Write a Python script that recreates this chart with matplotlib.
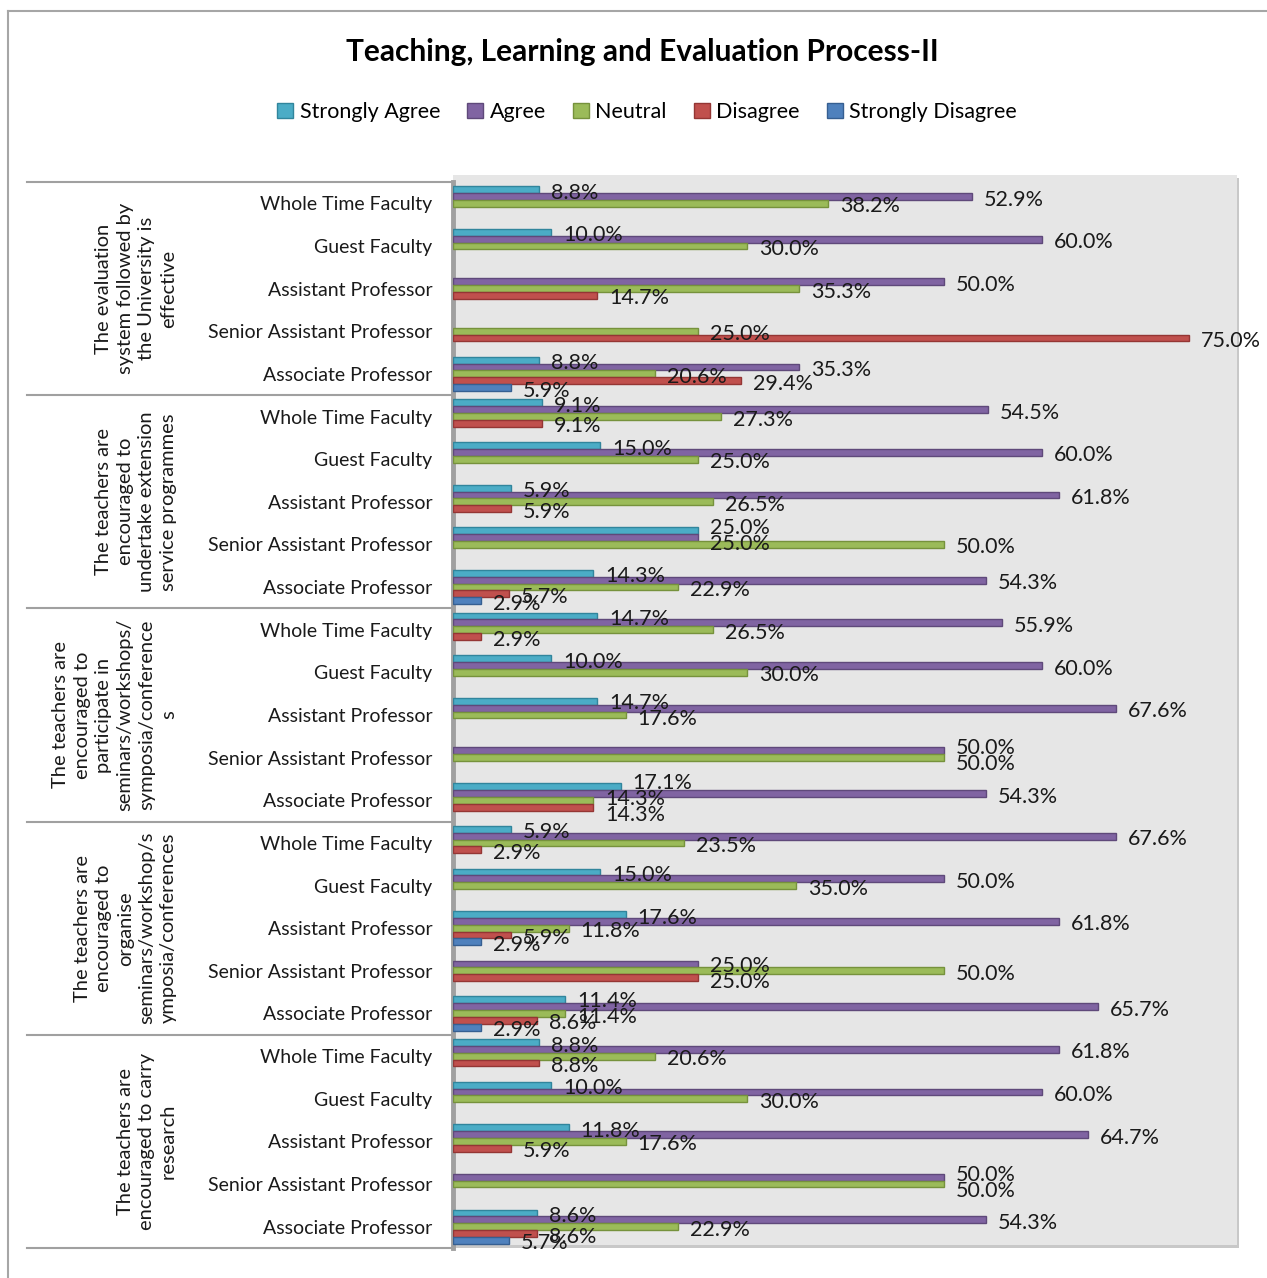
import numpy as np
import matplotlib
matplotlib.use("Agg")
import matplotlib.pyplot as plt
import matplotlib.transforms as mtransforms
from matplotlib.patches import Rectangle, Patch
from matplotlib.lines import Line2D

plt.rcParams['font.family'] = ['Lato', 'DejaVu Sans']

title = "Teaching, Learning and Evaluation Process-II"
series_names = ["Strongly Agree", "Agree", "Neutral", "Disagree", "Strongly Disagree"]
categories = ["Whole Time Faculty", "Guest Faculty", "Assistant Professor",
              "Senior Assistant Professor", "Associate Professor"]
groups = [
    "The evaluation\nsystem followed by\nthe University is\neffective",
    "The teachers are\nencouraged to\nundertake extension\nservice programmes",
    "The teachers are\nencouraged to\nparticipate in\nseminars/workshops/\nsymposia/conference\ns",
    "The teachers are\nencouraged to\norganise\nseminars/workshop/s\nymposia/conferences",
    "The teachers are\nencouraged to carry\nresearch",
]

strongly_agree = [8.8, 10.0, 0, 0, 8.8,
                  9.1, 15.0, 5.9, 25.0, 14.3,
                  14.7, 10.0, 14.7, 0, 17.1,
                  5.9, 15.0, 17.6, 0, 11.4,
                  8.8, 10.0, 11.8, 0, 8.6]
agree = [52.9, 60.0, 50.0, 0, 35.3,
         54.5, 60.0, 61.8, 25.0, 54.3,
         55.9, 60.0, 67.6, 50.0, 54.3,
         67.6, 50.0, 61.8, 25.0, 65.7,
         61.8, 60.0, 64.7, 50.0, 54.3]
neutral = [38.2, 30.0, 35.3, 25.0, 20.6,
           27.3, 25.0, 26.5, 50.0, 22.9,
           26.5, 30.0, 17.6, 50.0, 14.3,
           23.5, 35.0, 11.8, 50.0, 11.4,
           20.6, 30.0, 17.6, 50.0, 22.9]
disagree = [0, 0, 14.7, 75.0, 29.4,
            9.1, 0, 5.9, 0, 5.7,
            2.9, 0, 0, 0, 14.3,
            2.9, 0, 5.9, 25.0, 8.6,
            8.8, 0, 5.9, 0, 8.6]
strongly_disagree = [0, 0, 0, 0, 5.9,
                     0, 0, 0, 0, 2.9,
                     0, 0, 0, 0, 0,
                     0, 0, 2.9, 0, 2.9,
                     0, 0, 0, 0, 5.7]

series = [strongly_agree, agree, neutral, disagree, strongly_disagree]
colors = ['#4BACC6', '#8064A2', '#9BBB59', '#C0504D', '#4F81BD']
edges = ['#31859C', '#5F497A', '#76923C', '#943634', '#365F91']

W, H = 1267, 1278
DPI = 100
fig = plt.figure(figsize=(W / DPI, H / DPI), dpi=DPI)
fig.patch.set_facecolor('white')

def fx(px):
    return px / W

def fy(py):
    return 1 - py / H

# chart border (left and top visible)
fig.add_artist(Line2D([fx(8), fx(8)], [fy(11), 0], color='#a6a6a6', lw=1.5))
fig.add_artist(Line2D([fx(8), 1], [fy(11), fy(11)], color='#a6a6a6', lw=1.5))

# back wall with soft shadow
fig.add_artist(Rectangle((fx(455), fy(1248)), fx(1239) - fx(455), fy(178) - fy(1248),
                         transform=fig.transFigure, facecolor='#c8c8c8', edgecolor='none', zorder=0))
fig.add_artist(Rectangle((fx(453), fy(1245)), fx(1237) - fx(453), fy(175) - fy(1245),
                         transform=fig.transFigure, facecolor='#e6e6e6', edgecolor='none', zorder=0))

ax_left, ax_right, ax_top, ax_bot = 453, 1238, 182, 1248
ax = fig.add_axes([fx(ax_left), fy(ax_bot), fx(ax_right) - fx(ax_left), fy(ax_top) - fy(ax_bot)])
ax.patch.set_alpha(0)

n_rows = len(groups) * len(categories)
rows = np.arange(n_rows)
bar_h = 0.16
ax.set_xlim(0, 80)
ax.set_ylim(n_rows - 0.5, -0.5)

labels = []  # (row, annotation)
base_dx, base_dy = 8.6, -2.2  # points
for s, vals in enumerate(series):
    vals = np.asarray(vals, dtype=float)
    mask = vals > 0
    ypos = rows + (s - 2) * bar_h
    ax.barh(ypos[mask], vals[mask], height=bar_h, color=colors[s],
            edgecolor=edges[s], linewidth=1.0, zorder=3)
    for r, y, v in zip(rows[mask], ypos[mask], vals[mask]):
        t = ax.annotate(f"{v:.1f}%", xy=(v, y), xytext=(base_dx, base_dy),
                        textcoords='offset points', ha='left', va='center',
                        fontsize=15.5, color='#1a1a1a', zorder=5, annotation_clip=False)
        labels.append((r, t))

ax.set_xticks([])
ax.set_yticks(rows)
ax.set_yticklabels(categories * len(groups), fontsize=14, color='#1a1a1a')
ax.tick_params(axis='y', length=0, pad=15)
for side in ['top', 'right', 'bottom']:
    ax.spines[side].set_visible(False)
ax.spines['left'].set_color('#a0a0a0')
ax.spines['left'].set_linewidth(3.5)

# separate strongly overlapping data labels within a row (vertical nudge)
fig.canvas.draw()
renderer = fig.canvas.get_renderer()
info = []
for r, t in labels:
    bb = t.get_window_extent(renderer)
    info.append([r, t, bb.x0, bb.x1, (bb.y0 + bb.y1) / 2, 0.0])
min_sep = 16.0
for _ in range(80):
    moved = False
    for i in range(len(info)):
        for j in range(i + 1, len(info)):
            a, b = info[i], info[j]
            if a[0] != b[0]:
                continue
            overlap = min(a[3], b[3]) - max(a[2], b[2])
            if overlap < 28:
                continue
            ya, yb = a[4] + a[5], b[4] + b[5]
            dy = abs(ya - yb)
            if dy < min_sep - 0.01:
                push = (min_sep - dy)
                up, down = (a, b) if ya >= yb else (b, a)
                up[5] += push * 0.6
                down[5] -= push * 0.4
                moved = True
    if not moved:
        break
for r, t, x0, x1, yc, shift in info:
    if shift != 0:
        t.set_position((base_dx, base_dy + shift * 72 / DPI))

# group separators and group labels
blend = mtransforms.blended_transform_factory(fig.transFigure, ax.transData)
n_cat = len(categories)
for g in range(len(groups) + 1):
    yb = g * n_cat - 0.5
    fig.add_artist(Line2D([fx(27), fx(452)], [yb, yb], transform=blend,
                          color='#a0a0a0', lw=1.5))
for g, lab in enumerate(groups):
    yc = g * n_cat + (n_cat - 1) / 2
    fig.text(fx(177), yc, lab, transform=blend, rotation=90, ha='right', va='center',
             multialignment='center', fontsize=14.5, linespacing=1.33, color='#1a1a1a')

# title
fig.text(fx(642), fy(52), title, ha='center', va='center', fontsize=21.5,
         fontweight='bold', color='black')

# legend
handles = [Patch(facecolor=c, edgecolor=e, linewidth=1.0) for c, e in zip(colors, edges)]
fig.legend(handles, series_names, loc='center', bbox_to_anchor=(fx(647), fy(112)),
           ncol=5, frameon=False, fontsize=15.5, handlelength=0.75, handleheight=0.75,
           handletextpad=0.3, columnspacing=1.25, borderaxespad=0)

fig.savefig("out.png", dpi=DPI, facecolor='white')
